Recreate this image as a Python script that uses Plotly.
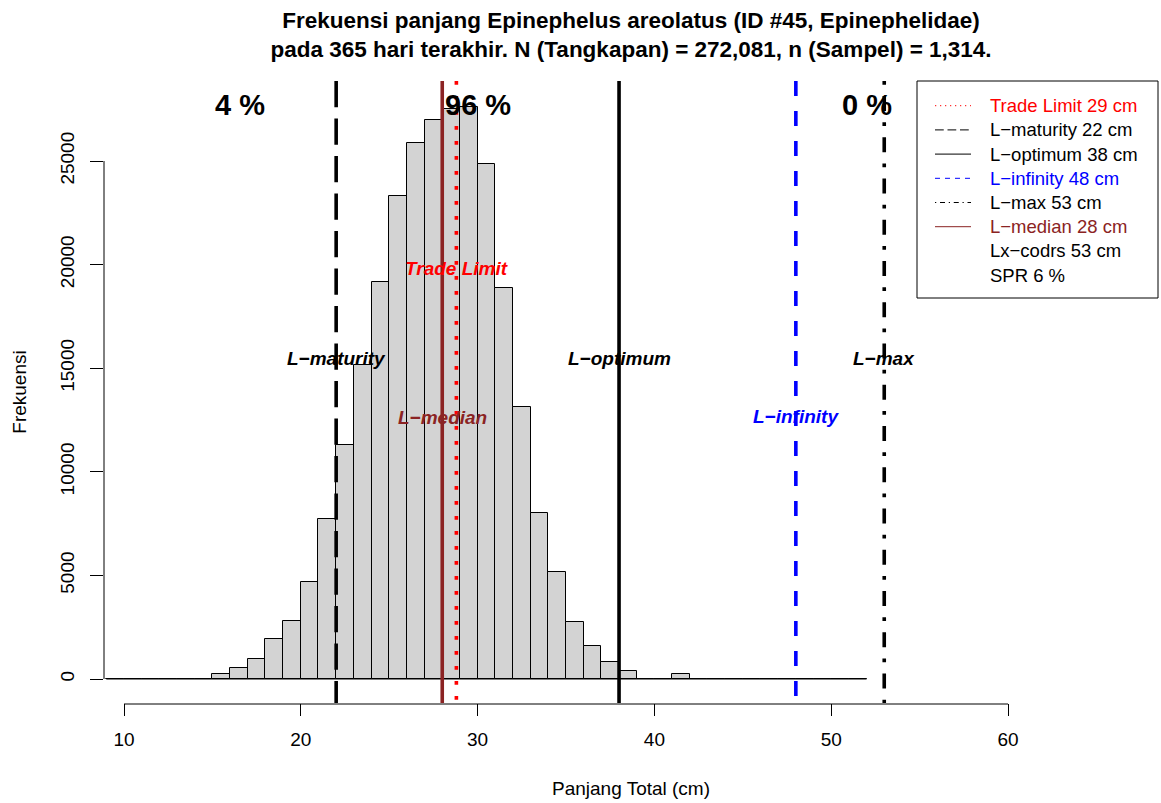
import plotly.graph_objects as go

# ---------------- data ----------------
bin_left = list(range(9, 52))  # 1-cm bins, left edges 9..51
counts = [0, 0, 0, 0, 0, 0,                      # 9-14
          230, 530, 950, 1925, 2820, 4690,       # 15-20
          7730, 11310, 15170, 19175, 23320, 25890,  # 21-26
          26980, 27500, 27610, 24850, 18850, 13110,  # 27-32
          7990, 5170, 2765, 1580, 835, 400,      # 33-38
          0, 0, 227,                             # 39-41
          0, 0, 0, 0, 0, 0, 0, 0, 0, 0]          # 42-51

ref_names = ["Trade Limit", "L\u2212maturity", "L\u2212optimum", "L\u2212infinity", "L\u2212max", "L\u2212median"]
ref_values = [28.8, 22, 38, 48, 53, 28]
ref_display = [29, 22, 38, 48, 53, 28]
ref_colors = ["#FF0000", "#000000", "#000000", "#0000FF", "#000000", "#8B2323"]
ref_lty = ["13", "73", None, "44", "1343", None]
ref_label_y = [19790, 15490, 15490, 12650, 15450, 12600]

extra_legend = ["Lx\u2212codrs 53 cm", "SPR 6 %"]

pct_labels = ["4 %", "96 %", "0 %"]
pct_x = [16.56, 30.0, 52.0]
pct_y = 27700

x_ticks = [10, 20, 30, 40, 50, 60]
y_ticks = [0, 5000, 10000, 15000, 20000, 25000]

title_lines = ["Frekuensi panjang Epinephelus areolatus (ID #45, Epinephelidae)",
               "pada 365 hari terakhir. N (Tangkapan) = 272,081, n (Sampel) = 1,314."]
x_title = "Panjang Total (cm)"
y_title = "Frekuensi"

# ---------------- layout geometry ----------------
W, H = 1161, 803
PL, PR, PT, PB = 104, 1158, 81, 703
X_RANGE = [8.869, 68.484]
Y_RANGE = [-1158, 28861]
FONT = "Liberation Sans, Arial, Helvetica, sans-serif"


def px_x(px):
    return (px - PL) / (PR - PL)


def px_y(py):
    return (PB - py) / (PB - PT)


def dash_of(lty, unit):
    if lty is None:
        return "solid"
    return ",".join(f"{int(c) * unit:.2f}px" for c in lty)


fig = go.Figure()

# histogram bars
centers = [b + 0.5 for b in bin_left]
fig.add_trace(go.Bar(x=centers, y=counts, width=1,
                     marker=dict(color="#D3D3D3", line=dict(color="#000000", width=1)),
                     showlegend=False, hoverinfo="x+y"))
# baseline of histogram (zero-count bins)
fig.add_trace(go.Scatter(x=[bin_left[0], bin_left[-1] + 1], y=[0, 0], mode="lines",
                         line=dict(color="#000000", width=1), showlegend=False, hoverinfo="skip"))

# reference lines
for name, v, c, lty in zip(ref_names, ref_values, ref_colors, ref_lty):
    fig.add_trace(go.Scatter(x=[v, v], y=[Y_RANGE[1], Y_RANGE[0]], mode="lines",
                             line=dict(color=c, width=3.6, dash=dash_of(lty, 3.75)),
                             showlegend=False, hoverinfo="skip", cliponaxis=False))

annotations = []
# line labels
for name, v, c, ly in zip(ref_names, ref_values, ref_colors, ref_label_y):
    annotations.append(dict(x=v, y=ly, xref="x", yref="y", text=f"<b><i>{name}</i></b>",
                            showarrow=False, font=dict(size=19, color=c, family=FONT),
                            xanchor="center", yanchor="middle"))
# percent labels
for t, xv in zip(pct_labels, pct_x):
    annotations.append(dict(x=xv, y=pct_y, xref="x", yref="y", text=f"<b>{t}</b>",
                            showarrow=False, font=dict(size=29, color="#000000", family=FONT),
                            xanchor="center", yanchor="middle"))

shapes = []
# axis lines (R style, spanning tick range only)
shapes.append(dict(type="line", xref="x", yref="paper", x0=x_ticks[0], x1=x_ticks[-1],
                   y0=px_y(704), y1=px_y(704), line=dict(color="#000000", width=1)))
shapes.append(dict(type="line", xref="paper", yref="y", x0=0, x1=0,
                   y0=y_ticks[0], y1=y_ticks[-1], line=dict(color="#000000", width=1)))

# legend box (manual, R-style)
LB_L, LB_T, LB_R, LB_B = 917, 81, 1158, 298
shapes.append(dict(type="rect", xref="paper", yref="paper", x0=px_x(LB_L), x1=px_x(LB_R),
                   y0=px_y(LB_B), y1=px_y(LB_T), line=dict(color="#000000", width=1),
                   fillcolor="#FFFFFF", layer="above"))
row0, row_step = 105.7, 24.2
legend_rows = [f"{n} {d} cm" for n, d in zip(ref_names, ref_display)] + extra_legend
legend_colors = ref_colors + ["#000000", "#000000"]
legend_lty = ref_lty + [None, None]
for i, (txt, c) in enumerate(zip(legend_rows, legend_colors)):
    yy = row0 + i * row_step
    if i < len(ref_names):
        shapes.append(dict(type="line", xref="paper", yref="paper", x0=px_x(935), x1=px_x(971),
                           y0=px_y(yy), y1=px_y(yy), layer="above",
                           line=dict(color=c, width=1, dash=dash_of(legend_lty[i], 1.25))))
    annotations.append(dict(x=px_x(988), y=px_y(yy), xref="paper", yref="paper", text=txt,
                            showarrow=False, font=dict(size=18.5, color=c, family=FONT),
                            xanchor="left", yanchor="middle"))

fig.update_layout(
    width=W, height=H,
    margin=dict(l=PL, r=W - PR, t=PT, b=H - PB, pad=0),
    paper_bgcolor="#FFFFFF", plot_bgcolor="#FFFFFF",
    font=dict(family=FONT, size=19, color="#000000"),
    title=dict(text="<b>" + title_lines[0] + "</b><br><b>" + title_lines[1] + "</b>",
               x=0.5, xref="paper", xanchor="center",
               y=1 - 28 / H, yref="container", yanchor="middle",
               font=dict(size=22.5, family=FONT, color="#000000")),
    bargap=0,
    xaxis=dict(range=X_RANGE, tickmode="array", tickvals=x_ticks, ticktext=[str(t) for t in x_ticks],
               ticks="outside", ticklen=12, tickwidth=1, tickcolor="#000000",
               ticklabelstandoff=7,
               showline=False, showgrid=False, zeroline=False,
               tickfont=dict(size=19), title=dict(text=x_title, standoff=32, font=dict(size=19))),
    yaxis=dict(range=Y_RANGE, tickmode="array", tickvals=y_ticks, ticktext=[str(t) for t in y_ticks],
               ticks="outside", ticklen=13, tickwidth=1, tickcolor="#000000", tickangle=-90,
               ticklabelstandoff=8,
               showline=False, showgrid=False, zeroline=False,
               tickfont=dict(size=19), title=dict(text=y_title, standoff=25, font=dict(size=19))),
    annotations=annotations,
    shapes=shapes,
    showlegend=False,
)

fig.write_html("out.html")
